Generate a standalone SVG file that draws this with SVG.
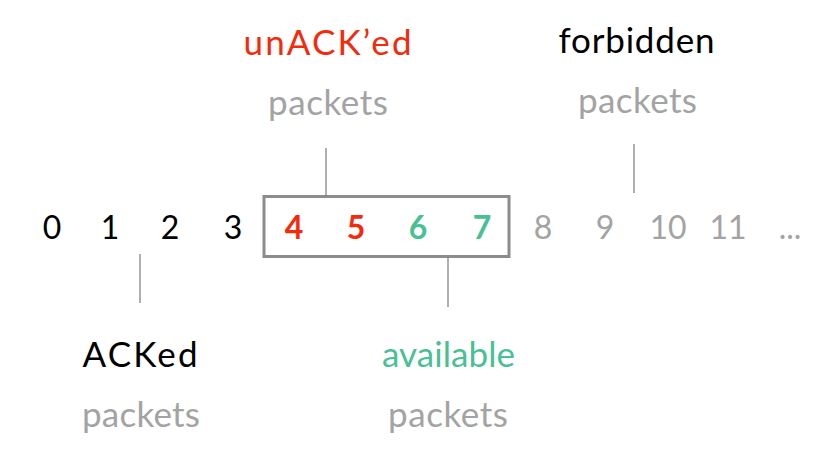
<svg xmlns="http://www.w3.org/2000/svg" width="826" height="454" viewBox="0 0 826 454">
<style>
text{font-family:"Lato","Open Sans","Liberation Sans",sans-serif;text-anchor:middle}
.num{font-size:32px}
.lbl{font-size:35px}
.blk{fill:#000}
.red{fill:#f52a0a}
.grn{fill:#48c094}
.gry{fill:#a3a3a3}
.b{font-weight:700}
.lead{stroke:#7a7a7a;stroke-width:1.2;fill:none}
</style>
<rect width="826" height="454" fill="#fff"/>
<g id="window">
<rect x="264" y="196.5" width="245" height="60" fill="none" stroke="#8c8c8c" stroke-width="3"/>
</g>
<g id="sequence">
<text class="num blk" x="52" y="239">0</text>
<text class="num blk" x="110" y="239">1</text>
<text class="num blk" x="170" y="239">2</text>
<text class="num blk" x="233" y="239">3</text>
<text class="num red b" x="294" y="239">4</text>
<text class="num red b" x="356" y="239">5</text>
<text class="num grn b" x="418" y="239">6</text>
<text class="num grn b" x="482" y="239">7</text>
<text class="num gry" x="543" y="239">8</text>
<text class="num gry" x="605" y="239">9</text>
<text class="num gry" x="668" y="239">10</text>
<text class="num gry" x="728" y="239">11</text>
<text class="num gry" x="790" y="239">...</text>
</g>
<g id="connectors">
<line class="lead" x1="326" y1="148" x2="326" y2="196"/>
<line class="lead" x1="634" y1="144" x2="634" y2="193"/>
<line class="lead" x1="140" y1="254" x2="140" y2="303"/>
<line class="lead" x1="448" y1="257" x2="448" y2="307"/>
</g>
<g id="unacked">
<text class="lbl red" x="327.5" y="55" textLength="168" lengthAdjust="spacing">unACK’ed</text>
<text class="lbl gry" x="328" y="115" textLength="120" lengthAdjust="spacing">packets</text>
</g>
<g id="forbidden">
<text class="lbl blk" x="636.5" y="53" textLength="156" lengthAdjust="spacing">forbidden</text>
<text class="lbl gry" x="637.5" y="113" textLength="119" lengthAdjust="spacing">packets</text>
</g>
<g id="acked">
<text class="lbl blk" x="140" y="367" textLength="115" lengthAdjust="spacing">ACKed</text>
<text class="lbl gry" x="141" y="427" textLength="118" lengthAdjust="spacing">packets</text>
</g>
<g id="available">
<text class="lbl grn" x="448.5" y="367" textLength="133" lengthAdjust="spacing">available</text>
<text class="lbl gry" x="448" y="427" textLength="120" lengthAdjust="spacing">packets</text>
</g>
</svg>
